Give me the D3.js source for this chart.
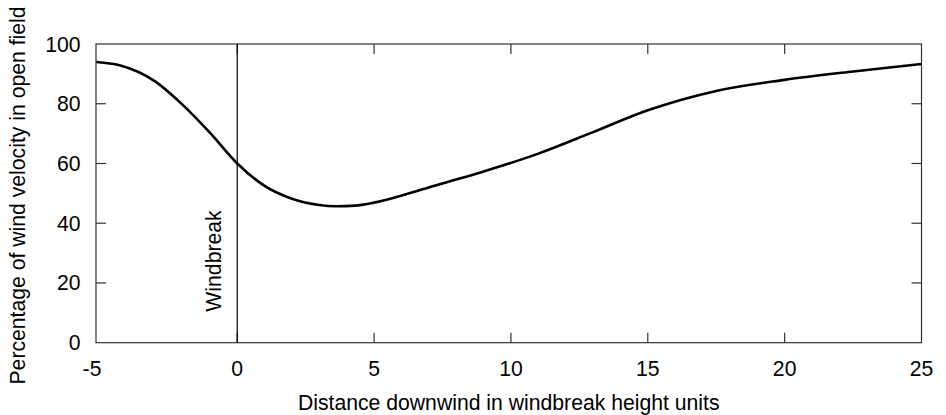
<!DOCTYPE html>
<html><head><meta charset="utf-8">
<script src="https://cdn.jsdelivr.net/npm/d3@7"></script>
<style>body{margin:0;background:#fff}text{font-family:"Liberation Sans",Arial,sans-serif;fill:#000}</style>
</head><body><svg id="c" width="946" height="415"></svg>
<script>
const distance = [-5.15, -4.3, -3, -2, -1, 0, 1, 2, 3, 3.6, 4.3, 5, 7, 9, 11, 13, 15, 17.5, 20, 22.5, 25];
const velocity = [94, 92.9, 87.5, 79.7, 70.3, 60, 52.5, 48.2, 46.1, 45.7, 45.9, 46.9, 52, 57.3, 63.3, 70.5, 77.8, 84.3, 88, 90.8, 93.3];
const xTicks = [-5, 0, 5, 10, 15, 20, 25];
const yTicks = [0, 20, 40, 60, 80, 100];
const windbreakX = 0;
const xTitle = "Distance downwind in windbreak height units";
const yTitle = "Percentage of wind velocity in open field";
const windbreakLabel = "Windbreak";

const svg = d3.select("#c");
const L = 96, R = 921.5, T = 44, B = 342.7;
const x = d3.scaleLinear().domain([-5.16, 25]).range([L, R]);
const y = d3.scaleLinear().domain([0, 100]).range([B, T]);
const fs = 21.2;

// frame
svg.append("rect").attr("x", L).attr("y", T).attr("width", R - L).attr("height", B - T)
  .attr("fill", "none").attr("stroke", "#333").attr("stroke-width", 1.2);

// ticks (inward)
const tl = 10;
xTicks.filter(v => v > -5 && v < 25).forEach(v => {
  svg.append("line").attr("x1", x(v)).attr("x2", x(v)).attr("y1", B).attr("y2", B - tl).attr("stroke", "#333").attr("stroke-width", 1.2);
  svg.append("line").attr("x1", x(v)).attr("x2", x(v)).attr("y1", T).attr("y2", T + tl).attr("stroke", "#333").attr("stroke-width", 1.2);
});
yTicks.filter(v => v > 0 && v < 100).forEach(v => {
  svg.append("line").attr("x1", L).attr("x2", L + tl).attr("y1", y(v)).attr("y2", y(v)).attr("stroke", "#333").attr("stroke-width", 1.2);
  svg.append("line").attr("x1", R).attr("x2", R - tl).attr("y1", y(v)).attr("y2", y(v)).attr("stroke", "#333").attr("stroke-width", 1.2);
});

// tick labels
svg.append("g").selectAll("text").data(xTicks).join("text")
  .attr("x", v => v === -5 ? L - 4 : x(v)).attr("y", 375.5).attr("text-anchor", "middle")
  .attr("font-size", fs).text(d => d);
svg.append("g").selectAll("text").data(yTicks).join("text")
  .attr("x", 80.5).attr("y", v => y(v) + 7.5).attr("text-anchor", "end")
  .attr("font-size", fs).text(d => d);

// titles
svg.append("text").attr("x", (L + R) / 2).attr("y", 410).attr("text-anchor", "middle")
  .attr("font-size", fs).text(xTitle);
svg.append("text").attr("transform", `translate(25,${(8 + 383) / 2}) rotate(-90)`)
  .attr("text-anchor", "middle").attr("font-size", fs).text(yTitle);

// windbreak line
svg.append("line").attr("x1", x(windbreakX)).attr("x2", x(windbreakX)).attr("y1", T).attr("y2", B)
  .attr("stroke", "#000").attr("stroke-width", 1.2);
svg.append("text").attr("transform", `translate(220.5,261) rotate(-90)`)
  .attr("text-anchor", "middle").attr("font-size", fs).text(windbreakLabel);

// curve
const pts = distance.map((d, i) => [d, velocity[i]]);
svg.append("path").datum(pts)
  .attr("d", d3.line().x(d => x(d[0])).y(d => y(d[1])).curve(d3.curveMonotoneX))
  .attr("fill", "none").attr("stroke", "#000").attr("stroke-width", 2.6);
</script></body></html>
